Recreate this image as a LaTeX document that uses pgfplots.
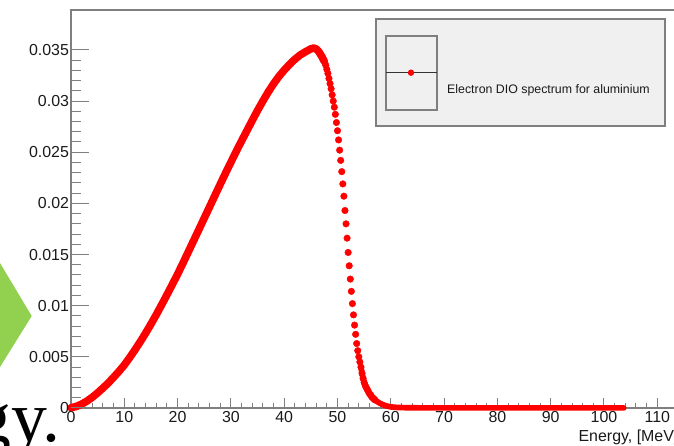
\documentclass[border=0pt]{standalone}
\usepackage{fontspec}
\setmainfont{Liberation Sans}
\newfontfamily\seriffont{Liberation Serif}
\usepackage{pgfplots}
\pgfplotsset{compat=1.18}
\definecolor{axgray}{HTML}{7F7F7F}
\definecolor{txt}{HTML}{1A1A1A}
\definecolor{lgfill}{HTML}{F0F0F0}
\definecolor{arrowgreen}{HTML}{92D050}
\definecolor{dio}{HTML}{FF0000}
\pgfplotsset{
 common/.style={
  at={(71bp,38bp)}, anchor=south west, scale only axis,
  width=607.6bp, height=398bp,
  xmin=0, xmax=114, ymin=0, ymax=0.0389,
  tick align=inside, clip=false,
 }
}
\begin{document}
\begin{tikzpicture}[x=1bp,y=1bp]
\path[use as bounding box] (0,0) rectangle (674,446);
\begin{scope}[overlay]
\clip (0,0) rectangle (674,446);
\fill[arrowgreen] (0,183) -- (31.7,130) -- (0,79) -- cycle;
\node[anchor=base east, inner sep=0, font=\seriffont\fontsize{72}{72}\selectfont, text=black] at (60.5,4.5) {gy.};
\begin{axis}[common,
  axis line style={axgray, line width=1.2bp},
  tick style={axgray, line width=1bp},
  xtick={0,10,...,110}, minor x tick num=4,
  ytick=\empty,
  xtick pos=left,
  major tick length=10bp, minor tick length=5bp,
  /pgf/number format/assume math mode=true,
  xticklabel style={font=\fontsize{16}{16}\selectfont, text=txt},
  xlabel={Energy, [MeV]},
  xlabel style={at={(rel axis cs:1,0)}, anchor=base east, yshift=-33.7bp, inner sep=0,
    font=\fontsize{16}{16}\selectfont, text=txt},
]
% rising part (dense points merge into a thick band)
\addplot[dio, line width=7.6bp, line cap=round, line join=round] coordinates {
(0,0.00003) (1,0.00015) (2,0.00038) (3,0.00068) (4,0.00105) (5,0.00148)
(6,0.00195) (7,0.00245) (8,0.00300) (9,0.00358) (10,0.00420) (11,0.00492)
(12,0.00568) (13,0.00648) (14,0.00732) (15,0.00820) (16,0.00912) (17,0.01008)
(18,0.01106) (19,0.01206) (20,0.01308) (21,0.01415) (22,0.01525) (23,0.01635)
(24,0.01745) (25,0.01856) (26,0.01966) (27,0.02077) (28,0.02187) (29,0.02296)
(30,0.02402) (31,0.02508) (32,0.02610) (33,0.02710) (34,0.02810) (35,0.02908)
(36,0.03000) (37,0.03088) (38,0.03168) (39,0.03240) (40,0.03302) (41,0.03358)
(42,0.03408) (43,0.03450) (44,0.03482) (45,0.03510) (45.5,0.03518) (46,0.03510)
(46.5,0.03482) (47,0.03440) (47.5,0.03390)
};
% tail band
\addplot[dio, line width=5.7bp, line cap=round, line join=round] coordinates {
(54.4,0.0040) (54.6,0.0034) (54.8,0.0029) (55.0,0.0025) (55.2,0.0022) (55.4,0.0020)
(55.6,0.0018) (55.8,0.0016) (56.0,0.0014) (56.2,0.0013) (56.4,0.0011) (56.6,0.0010)
(56.8,0.0009) (57.0,0.0008) (57.2,0.0007) (57.4,0.00065) (57.6,0.00058) (57.8,0.00051)
(58.0,0.00045) (58.4,0.00035) (58.8,0.00027) (59.2,0.00020) (59.6,0.00015) (60.0,0.00011)
(60.5,0.00008) (61,0.00006) (62,0.00004) (63,0.00003) (64,0.00002) (66,0.00001)
(70,0.00001) (75,0.00001) (80,0.00001) (85,0.00001) (90,0.00001) (95,0.00001)
(100,0.00001) (103.7,0.00001)
};
% falling edge: separate markers
\addplot[only marks, mark=*, mark size=3.3bp, dio, mark options={fill=dio, draw=dio}] coordinates {
(47.6,0.0338) (47.8,0.0335) (48.0,0.0331) (48.2,0.0327) (48.4,0.0322) (48.6,0.0317)
(48.8,0.0312) (49.0,0.0306) (49.2,0.0300) (49.4,0.0294) (49.6,0.0287) (49.8,0.0279)
(50.0,0.0271) (50.2,0.0262) (50.4,0.0252) (50.6,0.0242) (50.8,0.0231) (51.0,0.0219)
(51.2,0.0207) (51.4,0.0193) (51.6,0.0180) (51.8,0.0166) (52.0,0.0152) (52.2,0.0139)
(52.4,0.0126) (52.6,0.0114) (52.8,0.0102) (53.0,0.0091) (53.2,0.0081) (53.4,0.0072)
(53.6,0.0063) (53.8,0.0056) (54.0,0.0050) (54.2,0.0045) (54.4,0.0040) (54.6,0.0034)
(54.8,0.0029) (55.0,0.0025) (55.2,0.0022) (55.4,0.0020) (55.6,0.0018) (55.8,0.0016)
(56.0,0.0014) (56.2,0.0013) (56.4,0.0011) (56.6,0.0010) (56.8,0.0009) (57.0,0.0008)
};
\end{axis}
\begin{axis}[common,
  axis line style={draw=none},
  tick style={axgray, line width=1bp},
  xtick=\empty,
  ytick={0,0.005,0.01,0.015,0.02,0.025,0.03,0.035},
  yticklabels={0,0.005,0.01,0.015,0.02,0.025,0.03,0.035},
  minor y tick num=4,
  ytick pos=left,
  major tick length=18bp, minor tick length=10bp,
  yticklabel style={font=\fontsize{16}{16}\selectfont, text=txt, xshift=1.5bp},
]
\end{axis}
% legend box (ROOT style)
\draw[axgray, line width=1.3bp, fill=lgfill] (376,320) rectangle (665,427);
\draw[axgray, line width=1.2bp] (386,336) rectangle (437,410);
\draw[black!80, line width=1bp] (386,373.3) -- (437,373.3);
\fill[dio] (411,373.3) circle (3.2);
\node[anchor=west, inner sep=0, font=\fontsize{12.4}{12.4}\selectfont, text=txt] at (447,356) {Electron DIO spectrum for aluminium};
\end{scope}
\end{tikzpicture}
\end{document}
